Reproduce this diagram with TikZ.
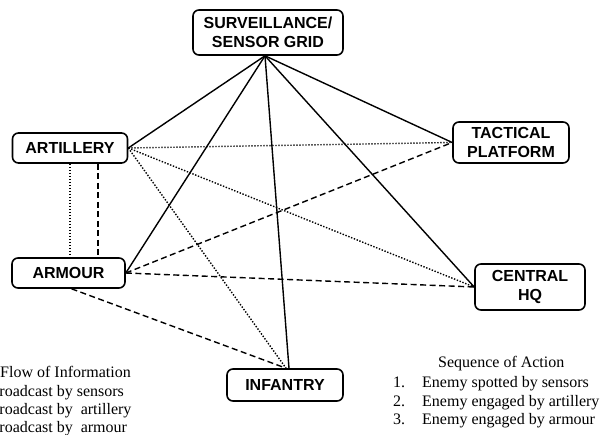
\documentclass[tikz,border=0pt]{standalone}
\usepackage{fontspec}
\setmainfont{Liberation Serif}
\setsansfont{Liberation Sans}
\usetikzlibrary{calc}
\begin{document}
\begin{tikzpicture}[x=1pt,y=-1pt,
  unit/.style={draw, line width=1.6pt, rounded corners=6pt, align=center,
    font=\sffamily\bfseries\fontsize{16}{19}\selectfont, inner sep=0pt},
  sensorlink/.style={line width=1.4pt},
  artylink/.style={line width=1.4pt, dash pattern=on 1.4pt off 1.6pt},
  armourlink/.style={line width=1.4pt, dash pattern=on 6pt off 3.5pt},
  legend/.style={font=\fontsize{16}{19}\selectfont, anchor=base west, inner sep=0pt}]
\useasboundingbox (0,0) rectangle (603,435);

% units
\node[unit, minimum width=150pt, minimum height=45pt] (grid) at (268,32.5) {SURVEILLANCE/\\SENSOR GRID};
\node[unit, minimum width=115pt, minimum height=30pt] (arty) at (70,148) {ARTILLERY};
\node[unit, minimum width=113pt, minimum height=30pt] (arm) at (68.5,273) {ARMOUR};
\node[unit, minimum width=116pt, minimum height=41pt] (tac) at (511,142.5) {TACTICAL\\PLATFORM};
\node[unit, minimum width=110pt, minimum height=46pt] (hq) at (530,287) {CENTRAL\\HQ};
\node[unit, minimum width=116pt, minimum height=32pt] (inf) at (285,385) {INFANTRY};

% connection points
\coordinate (gridOut) at ($(grid.south)+(-3,0)$);
\coordinate (infTop) at ($(inf.north)+(4,0)$);
\coordinate (infTopB) at ($(inf.north)+(1,0)$);
\coordinate (armLow) at ($(arm.south)+(3,0)$);
\coordinate (artyDashTop) at ($(arty.south)+(28,0)$);

% information broadcast by sensors
\draw[sensorlink] (gridOut) -- (arty.east);
\draw[sensorlink] (gridOut) -- (arm.east);
\draw[sensorlink] (gridOut) -- (tac.west);
\draw[sensorlink] (gridOut) -- (hq.west);
\draw[sensorlink] (gridOut) -- (infTop);

% information broadcast by artillery
\draw[artylink] (arty.east) -- (tac.west);
\draw[artylink] (arty.east) -- (hq.west);
\draw[artylink] (arty.east) -- (infTopB);
\draw[artylink] (arty.south) -- (arty.south |- arm.north);

% information broadcast by armour
\draw[armourlink] (arm.east) -- (tac.west);
\draw[armourlink] (arm.east) -- (hq.west);
\draw[armourlink] (armLow) -- (infTopB);
\draw[armourlink] (artyDashTop) -- (artyDashTop |- arm.north);

% legends
\node[legend] (flowHead) at (0,378) {Flow of Information};
\node[legend] (flowA) at (-11.4,397) {Broadcast by sensors};
\node[legend] (flowB) at (-11.4,415) {Broadcast by\ \ artillery};
\node[legend] (flowC) at (-11.4,433) {Broadcast by\ \ armour};

\node[legend] (seqHead) at (438,368) {Sequence of Action};
\node[legend] (seqN1) at (393,388) {1.};
\node[legend] (seqT1) at (422,388) {Enemy spotted by sensors};
\node[legend] (seqN2) at (393,407) {2.};
\node[legend] (seqT2) at (422,407) {Enemy engaged by artillery};
\node[legend] (seqN3) at (393,425) {3.};
\node[legend] (seqT3) at (422,425) {Enemy engaged by armour};
\end{tikzpicture}
\end{document}
